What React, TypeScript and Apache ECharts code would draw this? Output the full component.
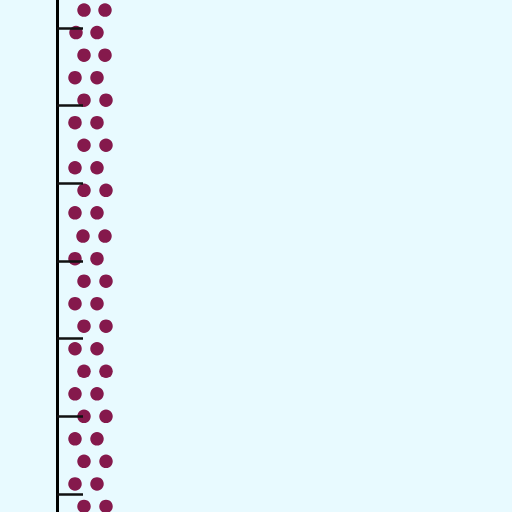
import React, { useEffect, useRef } from "react";
import * as echarts from "echarts";

// Row levels (y values) of the dot rows, top to bottom
const rowLevels = [62.3, 59.4, 56.5, 53.6, 50.7, 47.8, 44.9, 42.0, 39.1, 36.2, 33.2, 30.3, 27.4, 24.5, 21.6, 18.7, 15.8, 12.9, 10.0, 7.1, 4.2, 1.3, -1.6];
// Left and right dot positions (x values) in each row
const leftDots = [2.7, 1.9, 2.7, 1.8, 2.7, 1.8, 2.7, 1.8, 2.7, 1.8, 2.6, 1.8, 2.7, 1.8, 2.7, 1.8, 2.7, 1.8, 2.7, 1.8, 2.7, 1.8, 2.7];
const rightDots = [4.8, 4.0, 4.8, 4.0, 4.9, 4.0, 4.9, 4.0, 4.9, 4.0, 4.8, 4.0, 4.9, 4.0, 4.9, 4.0, 4.9, 4.0, 4.9, 4.0, 4.9, 4.0, 4.9];
// Tick positions on the y axis
const tickValues = [0, 10, 20, 30, 40, 50, 60];

export default function App() {
  const ref = useRef<HTMLDivElement>(null);
  useEffect(() => {
    if (!ref.current) return;
    const chart = echarts.init(ref.current, undefined, { renderer: "svg" });
    const points: number[][] = [];
    rowLevels.forEach((y, i) => {
      points.push([leftDots[i], y]);
      points.push([rightDots[i], y]);
    });
    chart.setOption({
      animation: false,
      backgroundColor: "#E8FAFF",
      grid: { left: 57, right: 0, top: 0, bottom: 0 },
      xAxis: {
        type: "value",
        min: 0,
        max: 45.5,
        show: false,
      },
      yAxis: {
        type: "value",
        min: -2.32,
        max: 63.6,
        z: 5,
        axisLine: { show: true, lineStyle: { color: "#000", width: 3 } },
        axisTick: {
          show: true,
          inside: true,
          length: 26,
          customValues: tickValues,
          lineStyle: { color: "#111", width: 2.5 },
        },
        axisLabel: { show: false },
        splitLine: { show: false },
      },
      series: [
        {
          type: "scatter",
          data: points,
          symbol: "circle",
          symbolSize: 13.5,
          clip: false,
          z: 2,
          itemStyle: { color: "#85194C", opacity: 1 },
        },
      ],
    });
    return () => chart.dispose();
  }, []);
  return (
    <div
      ref={ref}
      style={{ position: "absolute", left: 0, top: 0, width: 512, height: 512 }}
    />
  );
}
